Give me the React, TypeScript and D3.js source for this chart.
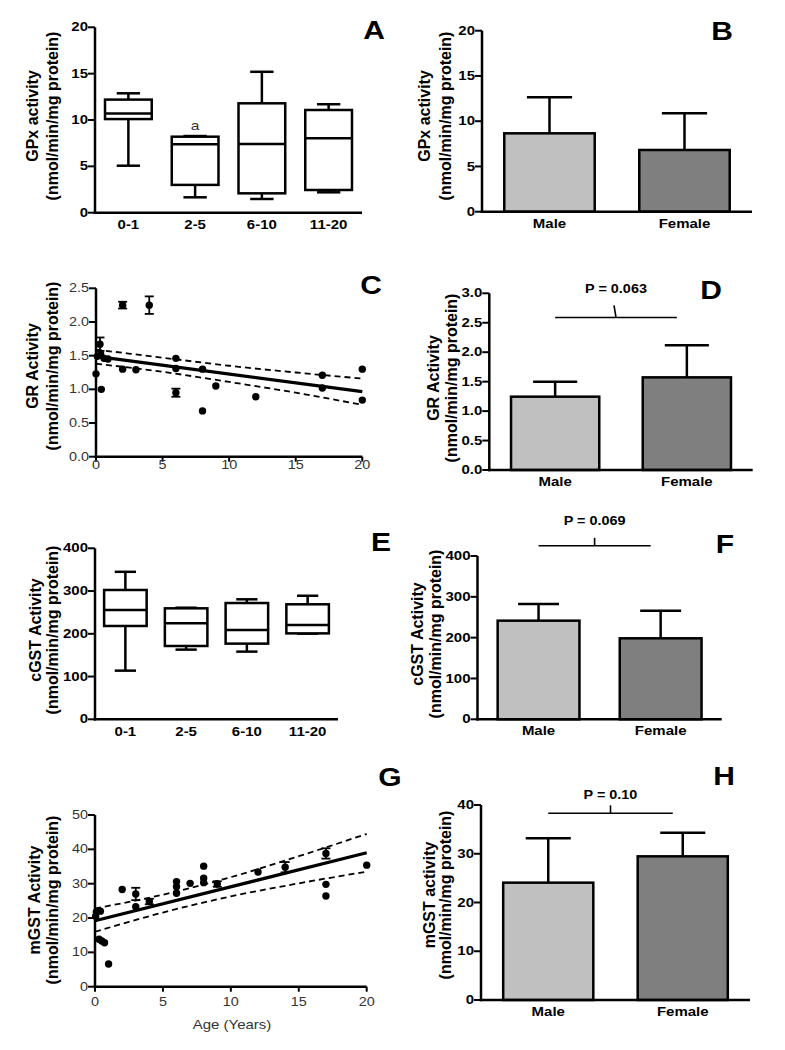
import React from "react";
import * as d3 from "d3";

const FONT = "'Liberation Sans', Arial, Helvetica, sans-serif";

// ---------- DATA ----------
const ageGroups = ["0-1", "2-5", "6-10", "11-20"];
const sexes = ["Male", "Female"];

// box stats: [whiskerLow, q1, median, q3, whiskerHigh]
const gpxBoxStats = [
  [5.07, 10.1, 10.7, 12.2, 12.88],
  [1.66, 3.0, 7.38, 8.2, 8.27],
  [1.48, 2.09, 7.4, 11.8, 15.2],
  [2.2, 2.45, 8.03, 11.08, 11.7],
];
const cgstBoxStats = [
  [113.8, 218.3, 255.8, 302.5, 345],
  [163, 171.5, 224.6, 259.6, 261],
  [158.3, 177, 209, 272, 280.7],
  [200.4, 201, 220.7, 269, 289],
];

const gpxMean = [8.66, 6.82];
const gpxErr = [3.98, 4.05];
const grMean = [1.245, 1.573];
const grErr = [0.255, 0.547];
const cgstMean = [241.6, 198.4];
const cgstErr = [40.8, 67.6];
const mgstMean = [24.07, 29.47];
const mgstErr = [9.09, 4.83];

const grAge = [0, 0.1, 0.3, 0.35, 0.4, 0.6, 0.9, 2, 2, 3, 4, 6, 6, 6, 8, 8, 9, 12, 17, 17, 20, 20];
const grValue = [1.23, 1.49, 1.67, 1.52, 1.0, 1.46, 1.45, 1.3, 2.25, 1.29, 2.25, 1.46, 1.31, 0.95, 1.3, 0.68, 1.05, 0.89, 1.21, 1.02, 1.3, 0.84];
const grPointErr = [0, 0, 0.1, 0, 0, 0, 0, 0, 0.05, 0, 0.13, 0, 0, 0.06, 0, 0, 0, 0, 0, 0, 0, 0];
const grFit = [[0, 1.49], [20, 0.965]];
const grUpper = [[0, 1.59], [5, 1.47], [10, 1.35], [15, 1.25], [20, 1.16]];
const grLower = [[0, 1.38], [5, 1.26], [10, 1.11], [15, 0.95], [20, 0.77]];

const mgstAge = [0.05, 0.1, 0.4, 0.3, 0.5, 0.7, 1, 2, 3, 3, 4, 6, 6, 6, 7, 8, 8, 8, 9, 12, 14, 17, 17, 17, 20];
const mgstValue = [20.5, 21.8, 22.0, 13.8, 13.3, 12.8, 6.6, 28.3, 27, 23.3, 24.8, 30.6, 29.1, 27.2, 30.1, 35.1, 31.6, 30.3, 29.9, 33.4, 34.8, 38.8, 29.8, 26.4, 35.4];
const mgstPointErr = [0, 0, 0, 0, 0, 0, 0, 0, 1.8, 0, 0.8, 0, 0, 0, 0, 0, 0, 0, 0.8, 0, 1.5, 1.5, 0, 0, 0];
const mgstFit = [[0, 19.2], [20, 39.0]];
const mgstUpper = [[0, 22.8], [5, 26.8], [10, 31.9], [15, 38.0], [20, 44.5]];
const mgstLower = [[0, 16.0], [5, 21.6], [10, 26.3], [15, 30.1], [20, 33.5]];

const ticksGpx = [0, 5, 10, 15, 20];
const ticksGr = [0, 0.5, 1.0, 1.5, 2.0, 2.5];
const ticksGrBar = [0, 0.5, 1.0, 1.5, 2.0, 2.5, 3.0];
const ticksCgst = [0, 100, 200, 300, 400];
const ticksMgst = [0, 10, 20, 30, 40, 50];
const ticksMgstBar = [0, 10, 20, 30, 40];
const ticksAge = [0, 5, 10, 15, 20];

// ---------- COMPONENTS ----------
const LW = 2.5;
const SX = 1.2; // horizontal stretch of the original figure's lettering

function T({ x, y, anchor = "middle", size = 12.5, bold = false, fill = "#000", children }: any) {
  return (
    <text
      transform={`translate(${x},${y}) scale(${SX},1)`}
      textAnchor={anchor}
      dominantBaseline="central"
      fontFamily={FONT}
      fontSize={size}
      fontWeight={bold ? "bold" : "normal"}
      fill={fill}
    >
      {children}
    </text>
  );
}

function YAxis({ y, ticks, x, fmt, bold }: any) {
  const [r0, r1] = y.range();
  return (
    <g>
      <line x1={x} x2={x} y1={r0 + LW / 2} y2={r1} stroke="#000" strokeWidth={LW} />
      {ticks.map((t: number) => (
        <g key={t}>
          <line x1={x - 7} x2={x} y1={y(t)} y2={y(t)} stroke="#000" strokeWidth={2} />
          <T x={x - 7} y={y(t)} anchor="end" size={bold ? 12.5 : 12} bold={bold} fill={bold ? "#000" : "#333"}>
            {fmt(t)}
          </T>
        </g>
      ))}
    </g>
  );
}

function AxisTitle({ x1, x2, yc, l1, l2 }: any) {
  return (
    <g fontFamily={FONT} fontWeight="bold" fontSize={16} fill="#000" textAnchor="middle">
      <text transform={`translate(${x1},${yc}) rotate(-90)`} dominantBaseline="central">{l1}</text>
      <text transform={`translate(${x2},${yc}) rotate(-90)`} dominantBaseline="central">{l2}</text>
    </g>
  );
}

function Letter({ x, y, t }: any) {
  return (
    <T x={x} y={y} size={25} bold>
      {t}
    </T>
  );
}

function CatAxis({ xb, y0, x0, x1, cats, dy }: any) {
  return (
    <g>
      <line x1={x0 - LW / 2} x2={x1} y1={y0} y2={y0} stroke="#000" strokeWidth={LW} />
      {cats.map((c: string) => (
        <T key={c} x={xb(c)! + xb.bandwidth() / 2} y={y0 + dy} size={12.5} bold>
          {c}
        </T>
      ))}
    </g>
  );
}

function BoxPanel({ stats, x0, x1, yTop, yBot, max, ticks, annotate }: any) {
  const y = d3.scaleLinear().domain([0, max]).range([yBot, yTop]);
  const xb = d3.scaleBand().domain(ageGroups).range([x0, x1]).paddingInner(0.3).paddingOuter(0.15);
  const bw = xb.bandwidth();
  return (
    <g>
      {stats.map((s: number[], i: number) => {
        const cx = xb(ageGroups[i])! + bw / 2;
        const left = xb(ageGroups[i])!;
        const cw = bw * 0.5;
        return (
          <g key={i} stroke="#000" strokeWidth={LW} fill="none">
            <line x1={cx} x2={cx} y1={y(s[3])} y2={y(s[4])} />
            <line x1={cx} x2={cx} y1={y(s[1])} y2={y(s[0])} />
            <line x1={cx - cw / 2} x2={cx + cw / 2} y1={y(s[4])} y2={y(s[4])} />
            <line x1={cx - cw / 2} x2={cx + cw / 2} y1={y(s[0])} y2={y(s[0])} />
            <rect x={left} y={y(s[3])} width={bw} height={y(s[1]) - y(s[3])} fill="#fff" />
            <line x1={left} x2={left + bw} y1={y(s[2])} y2={y(s[2])} />
          </g>
        );
      })}
      {annotate &&
        annotate.map((a: any) => (
          <T key={a.cat} x={xb(a.cat)! + bw / 2} y={y(a.value)} size={13} fill="#333">
            {a.label}
          </T>
        ))}
      <YAxis y={y} ticks={ticks} x={x0} fmt={d3.format("d")} bold />
      <CatAxis xb={xb} y0={yBot} x0={x0} x1={x1} cats={ageGroups} dy={12.5} />
    </g>
  );
}

function BarPanel({ means, errs, x0, x1, yTop, yBot, max, ticks, fmt, bracket }: any) {
  const y = d3.scaleLinear().domain([0, max]).range([yBot, yTop]);
  const xb = d3.scaleBand().domain(sexes).range([x0, x1]).paddingInner(0.33).paddingOuter(0.165);
  const bw = xb.bandwidth();
  const fills = ["#c0c0c0", "#7f7f7f"];
  return (
    <g>
      {sexes.map((s, i) => {
        const left = xb(s)!;
        const cx = left + bw / 2;
        return (
          <g key={s} stroke="#000" strokeWidth={LW}>
            <line x1={cx} x2={cx} y1={y(means[i])} y2={y(means[i] + errs[i])} />
            <line x1={cx - bw / 4} x2={cx + bw / 4} y1={y(means[i] + errs[i])} y2={y(means[i] + errs[i])} />
            <rect x={left} y={y(means[i])} width={bw} height={yBot - y(means[i])} fill={fills[i]} />
          </g>
        );
      })}
      {bracket && (() => {
        const xa = xb(sexes[0])! + bw / 2;
        const xf = xb(sexes[1])! + bw / 2 - 10;
        const ly = y(bracket.value);
        const mx = (xa + xf) / 2;
        return (
          <g>
            <line x1={xa} x2={xf} y1={ly} y2={ly} stroke="#000" strokeWidth={1.6} />
            <line x1={mx} x2={mx - bracket.slant} y1={ly} y2={ly - bracket.tick} stroke="#000" strokeWidth={1.6} />
            <T x={mx} y={ly - bracket.textOff} size={12} bold>
              {bracket.label}
            </T>
          </g>
        );
      })()}
      <YAxis y={y} ticks={ticks} x={x0} fmt={fmt} bold />
      <CatAxis xb={xb} y0={yBot} x0={x0} x1={x1} cats={sexes} dy={12} />
    </g>
  );
}

function ScatterPanel({ ages, vals, errs, fit, upper, lower, x0, x1, yTop, yBot, max, ticks, fmt, tickDy }: any) {
  const x = d3.scaleLinear().domain([0, 20]).range([x0, x1]);
  const y = d3.scaleLinear().domain([0, max]).range([yBot, yTop]);
  const line = d3.line<number[]>().x((d) => x(d[0])).y((d) => y(d[1]));
  const curve = d3
    .line<number[]>()
    .x((d) => x(d[0]))
    .y((d) => y(d[1]))
    .curve(d3.curveMonotoneX);
  return (
    <g>
      <path d={curve(upper)!} fill="none" stroke="#000" strokeWidth={1.8} strokeDasharray="6,4" />
      <path d={curve(lower)!} fill="none" stroke="#000" strokeWidth={1.8} strokeDasharray="6,4" />
      <path d={line(fit)!} fill="none" stroke="#000" strokeWidth={3.2} />
      {ages.map((a: number, i: number) => (
        <g key={i}>
          {errs[i] > 0 && (
            <g stroke="#000" strokeWidth={1.8}>
              <line x1={x(a)} x2={x(a)} y1={y(vals[i] - errs[i])} y2={y(vals[i] + errs[i])} />
              <line x1={x(a) - 4.5} x2={x(a) + 4.5} y1={y(vals[i] - errs[i])} y2={y(vals[i] - errs[i])} />
              <line x1={x(a) - 4.5} x2={x(a) + 4.5} y1={y(vals[i] + errs[i])} y2={y(vals[i] + errs[i])} />
            </g>
          )}
          <circle cx={x(a)} cy={y(vals[i])} r={3.7} fill="#000" />
        </g>
      ))}
      <YAxis y={y} ticks={ticks} x={x0} fmt={fmt} />
      <line x1={x0 - LW / 2} x2={x1} y1={yBot} y2={yBot} stroke="#000" strokeWidth={LW} />
      {ticksAge.map((t) => (
        <g key={t}>
          <line x1={x(t)} x2={x(t)} y1={yBot} y2={yBot + 5} stroke="#000" strokeWidth={2} />
          <T x={x(t)} y={yBot + tickDy} size={12} fill="#333">
            {t}
          </T>
        </g>
      ))}
    </g>
  );
}

export default function App() {
  const f1 = d3.format(".1f");
  const fd = d3.format("d");
  return (
    <svg
      width={785}
      height={1050}
      viewBox="0 0 785 1050"
      style={{ position: "absolute", left: 0, top: 0, background: "#fff" }}
    >
      <rect width={785} height={1050} fill="#fff" />
      {/* A */}
      <BoxPanel
        stats={gpxBoxStats}
        x0={95}
        x1={362}
        yTop={27.3}
        yBot={212.7}
        max={20}
        ticks={ticksGpx}
        annotate={[{ cat: "2-5", value: 9.4, label: "a" }]}
      />
      <AxisTitle x1={32.5} x2={52} yc={116} l1="GPx activity" l2="(nmol/min/mg protein)" />
      <Letter x={374} y={30} t="A" />
      {/* B */}
      <BarPanel means={gpxMean} errs={gpxErr} x0={482} x1={752} yTop={30.7} yBot={211.7} max={20} ticks={ticksGpx} fmt={fd} />
      <AxisTitle x1={424} x2={445} yc={116} l1="GPx activity" l2="(nmol/min/mg protein)" />
      <Letter x={722} y={31} t="B" />
      {/* C */}
      <ScatterPanel
        ages={grAge}
        vals={grValue}
        errs={grPointErr}
        fit={grFit}
        upper={grUpper}
        lower={grLower}
        x0={96}
        x1={362.3}
        yTop={288.3}
        yBot={456.7}
        max={2.5}
        ticks={ticksGr}
        fmt={f1}
        tickDy={8.5}
      />
      <AxisTitle x1={32} x2={52} yc={366} l1="GR Activity" l2="(nmol/min/mg protein)" />
      <Letter x={371} y={285} t="C" />
      {/* D */}
      <BarPanel
        means={grMean}
        errs={grErr}
        x0={489.3}
        x1={752.7}
        yTop={293.3}
        yBot={470}
        max={3}
        ticks={ticksGrBar}
        fmt={f1}
        bracket={{ value: 2.59, tick: 12, slant: 2, textOff: 29, label: "P = 0.063" }}
      />
      <AxisTitle x1={433} x2={451} yc={378} l1="GR Activity" l2="(nmol/min/mg protein)" />
      <Letter x={711} y={290} t="D" />
      {/* E */}
      <BoxPanel stats={cgstBoxStats} x0={95} x1={338} yTop={548.3} yBot={719.3} max={400} ticks={ticksCgst} />
      <AxisTitle x1={35} x2={52} yc={630} l1="cGST Activity" l2="(nmol/min/mg protein)" />
      <Letter x={381} y={542} t="E" />
      {/* F */}
      <BarPanel
        means={cgstMean}
        errs={cgstErr}
        x0={477.5}
        x1={721.7}
        yTop={556}
        yBot={719.3}
        max={400}
        ticks={ticksCgst}
        fmt={fd}
        bracket={{ value: 425, tick: 8, slant: 0, textOff: 25, label: "P = 0.069" }}
      />
      <AxisTitle x1={417} x2={435} yc={634} l1="cGST Activity" l2="(nmol/min/mg protein)" />
      <Letter x={725} y={544} t="F" />
      {/* G */}
      <ScatterPanel
        ages={mgstAge}
        vals={mgstValue}
        errs={mgstPointErr}
        fit={mgstFit}
        upper={mgstUpper}
        lower={mgstLower}
        x0={95}
        x1={366.7}
        yTop={815}
        yBot={986.7}
        max={50}
        ticks={ticksMgst}
        fmt={fd}
        tickDy={15}
      />
      <T x={232} y={1025} size={12.5} fill="#333">
        Age (Years)
      </T>
      <AxisTitle x1={34} x2={52} yc={900} l1="mGST Activity" l2="(nmol/min/mg protein)" />
      <Letter x={390} y={777} t="G" />
      {/* H */}
      <BarPanel
        means={mgstMean}
        errs={mgstErr}
        x0={481}
        x1={750}
        yTop={805}
        yBot={1000}
        max={40}
        ticks={ticksMgstBar}
        fmt={fd}
        bracket={{ value: 38.3, tick: 8, slant: 0, textOff: 18, label: "P = 0.10" }}
      />
      <AxisTitle x1={429} x2={445} yc={895} l1="mGST activity" l2="(nmol/min/mg protein)" />
      <Letter x={724} y={776} t="H" />
    </svg>
  );
}
